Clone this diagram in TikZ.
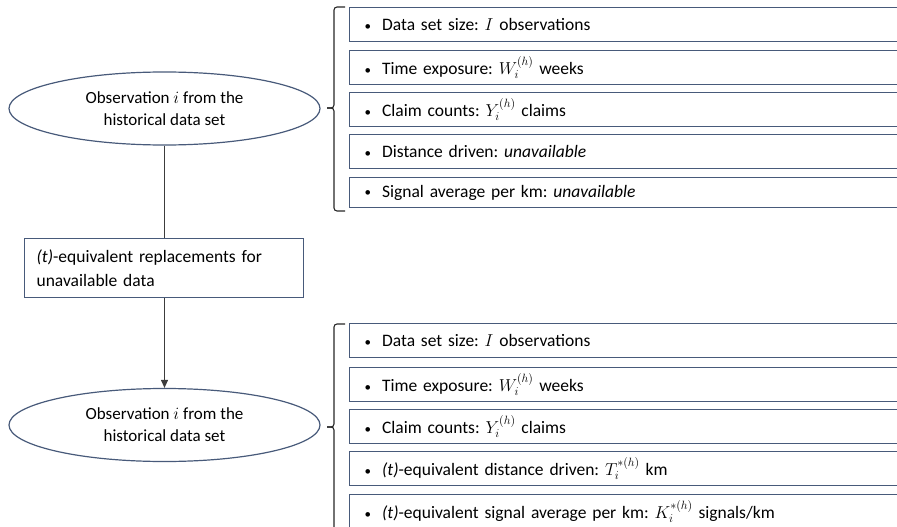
\documentclass[tikz,border=0pt]{standalone}
\usepackage{fontspec}
\setmainfont{Carlito}
\usetikzlibrary{arrows.meta,shapes.geometric}
\definecolor{boxblue}{RGB}{72,90,122}
\definecolor{linegray}{RGB}{60,60,60}
\tikzset{
  itembox/.style={draw=boxblue, line width=1.3pt, rectangle, anchor=north west,
    minimum width=600pt, minimum height=34pt, text width=570pt, align=left,
    inner xsep=11pt, inner ysep=0pt, font=\fontsize{17.5}{20}\selectfont},
  obsell/.style={draw=boxblue, line width=1.2pt, ellipse, minimum width=311pt,
    minimum height=73pt, inner sep=0pt, align=center, font=\fontsize{17}{22}\selectfont},
  repbox/.style={draw=boxblue, line width=1.2pt, rectangle, anchor=north west,
    minimum width=279pt, minimum height=59pt, text width=255pt, align=left,
    inner xsep=12pt, font=\fontsize{17.5}{24}\selectfont},
  conn/.style={draw=linegray, line width=1.1pt},
  brace/.style={draw=black!85, line width=1.1pt, rounded corners=3pt}
}
\newcommand{\itm}[1]{{\fontsize{13}{13}\selectfont\raisebox{0.5pt}{\textbullet}}\hspace{11pt}#1}
\begin{document}
\frenchspacing
\begin{tikzpicture}[x=1pt,y=-1pt]
\useasboundingbox (0,0) rectangle (897,527);
\clip (0,0) rectangle (897,527);
% top ellipse
\node[obsell] (e1) at (164.5,108.5) {Observation $i$ from the\\historical data set};
% replacement box
\node[repbox] (r) at (24,238) {\textit{(t)}-equivalent replacements for\\unavailable data};
% bottom ellipse
\node[obsell] (e2) at (164.5,425) {Observation $i$ from the\\historical data set};
% connectors
\coordinate (c1) at (r.north -| e1.south);
\coordinate (c2) at (r.south -| e2.north);
\draw[conn] (e1.south) -- (c1);
\draw[conn,-{Triangle[length=8pt,width=7pt]}] (c2) -- (e2.north);
% top boxes
\node[itembox] (a1) at (349,7)   {\itm{Data set size: $I$ observations}};
\node[itembox] (a2) at (349,50)  {\itm{Time exposure: $W_i^{(h)}$ weeks}};
\node[itembox] (a3) at (349,92)  {\itm{Claim counts: $Y_i^{(h)}$ claims}};
\node[itembox] (a4) at (349,134) {\itm{Distance driven: \textit{unavailable}}};
\node[itembox,minimum height=30pt] (a5) at (349,177) {\itm{Signal average per km: \textit{unavailable}}};
% bottom boxes
\node[itembox] (b1) at (349,323) {\itm{Data set size: $I$ observations}};
\node[itembox] (b2) at (349,367) {\itm{Time exposure: $W_i^{(h)}$ weeks}};
\node[itembox] (b3) at (349,409) {\itm{Claim counts: $Y_i^{(h)}$ claims}};
\node[itembox] (b4) at (349,451) {\itm{\textit{(t)}-equivalent distance driven: $T_i^{*(h)}$ km}};
\node[itembox] (b5) at (349,494) {\itm{\textit{(t)}-equivalent signal average per km: $K_i^{*(h)}$ signals/km}};
% braces
\coordinate (t1) at (345,7);
\coordinate (m1) at (334,108);
\coordinate (k1) at (327,108);
\coordinate (u1) at (345,211);
\draw[brace] (t1) -- (334,7) -- (m1) -- (k1);
\draw[brace] (k1) -- (m1) -- (334,211) -- (u1);
\coordinate (t2) at (345,324);
\coordinate (m2) at (334,427);
\coordinate (k2) at (327,427);
\coordinate (u2) at (345,532);
\draw[brace] (t2) -- (334,324) -- (m2) -- (k2);
\draw[brace] (k2) -- (m2) -- (334,532) -- (u2);
\end{tikzpicture}
\end{document}
